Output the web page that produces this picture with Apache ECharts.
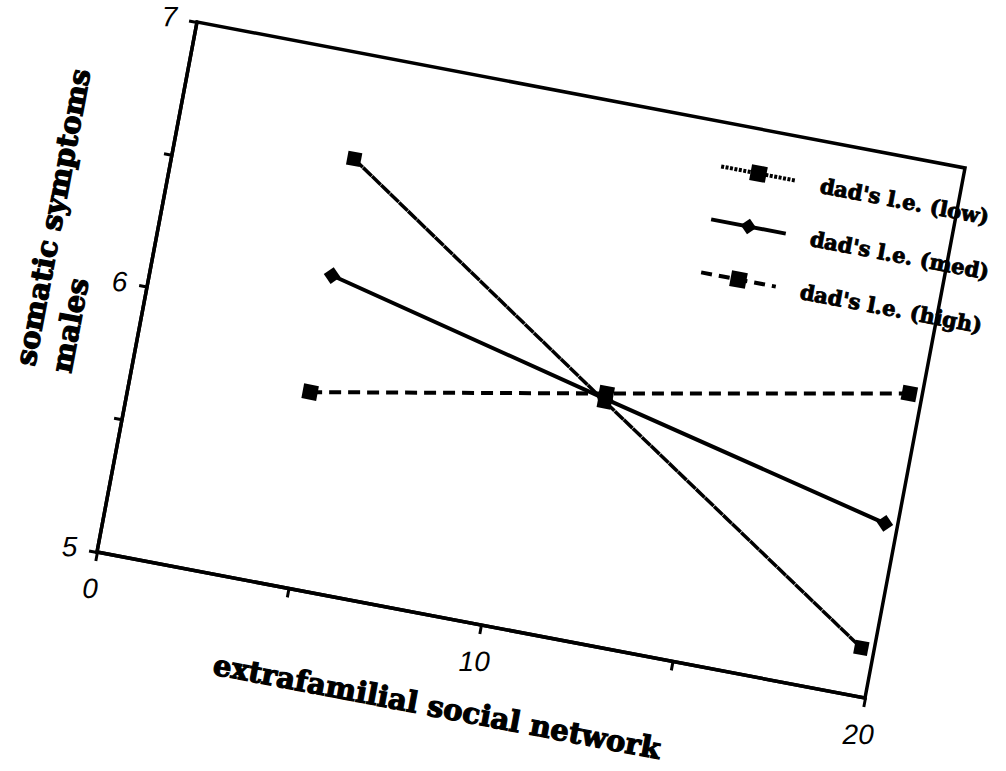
<!DOCTYPE html>
<html><head><meta charset="utf-8">
<script src="https://cdn.jsdelivr.net/npm/echarts@6/dist/echarts.min.js"></script>
<style>
html,body{margin:0;padding:0;background:#fff;overflow:hidden;width:1006px;height:771px;}
#chart{position:absolute;left:0;top:0;width:1060px;height:800px;transform-origin:0 0;
transform:matrix(0.98210,0.18670,-0.18553,0.98330,68.238,-104.334);}
</style></head><body><div id="chart"></div>
<script>
// ---- data ----
const xPoints = [4.6, 12.05, 19.67];
const lowValues = [6.61, 5.90, 5.18];
const medValues = [6.17, 5.91, 5.65];
const highValues = [5.73, 5.93, 6.14];
const seriesNames = ["dad's l.e. (low)", "dad's l.e. (med)", "dad's l.e. (high)"];
const xTickLabels = ['0', '10', '20'];
const yTickLabels = ['5', '6', '7'];
const xTitle = 'extrafamilial social network';
const yTitle = ['somatic symptoms', 'males'];

// ---- chart ----
const pairs = vals => xPoints.map((x, i) => [x, vals[i]]);
const serifFont = '"DejaVu Serif", "Liberation Serif", serif';
const tickFont = { fontFamily: '"Liberation Sans", Arial, sans-serif', fontStyle: 'italic', fontSize: 28, color: '#000' };
const legendLineTypes = [[3, 1.5], 'solid', [11, 7]];
const chart = echarts.init(document.getElementById('chart'), null, { renderer: 'svg' });
chart.setOption({
  animation: false,
  backgroundColor: 'transparent',
  grid: { left: 150, top: 100, width: 782, height: 539, show: true, borderColor: '#000', borderWidth: 3.5, backgroundColor: 'transparent' },
  legend: {
    orient: 'vertical', left: 685, top: 128, itemWidth: 76, itemHeight: 20, itemGap: 32,
    data: seriesNames.map((n, i) => ({ name: n, lineStyle: { width: 4, type: legendLineTypes[i], color: '#000' } })),
    textStyle: { fontFamily: serifFont, fontWeight: 'bold', fontSize: 21, color: '#000', padding: [0, 0, 0, 20],
      textBorderColor: '#000', textBorderWidth: 0.9 }
  },
  xAxis: {
    type: 'value', min: 0, max: 20, interval: 5,
    name: xTitle, nameLocation: 'middle', nameGap: 74,
    nameTextStyle: { fontFamily: serifFont, fontWeight: 'bold', fontSize: 29, color: '#000', padding: [0, 56, 0, 0],
      textBorderColor: '#000', textBorderWidth: 1.2 },
    axisLine: { lineStyle: { color: '#000', width: 3.5 } },
    axisTick: { inside: false, length: 9, lineStyle: { color: '#000', width: 3 } },
    axisLabel: Object.assign({ margin: 37, rotate: 10.7, align: 'center', verticalAlign: 'middle', showMinLabel: true, showMaxLabel: true,
      formatter: v => xTickLabels.includes(String(v)) ? String(v) : '' }, tickFont),
    splitLine: { show: false }
  },
  yAxis: {
    type: 'value', min: 5, max: 7, interval: 0.5,
    axisLine: { lineStyle: { color: '#000', width: 3.5 } },
    axisTick: { inside: false, length: 8, lineStyle: { color: '#000', width: 3 } },
    axisLabel: Object.assign({ margin: 28, rotate: 10.7, align: 'center', verticalAlign: 'middle', showMinLabel: true, showMaxLabel: true,
      formatter: v => yTickLabels.includes(String(v)) ? String(v) : '' }, tickFont),
    splitLine: { show: false }
  },
  graphic: [{
    type: 'text', x: 63, y: 469, rotation: Math.PI / 2,
    style: { text: yTitle.join('\n'), font: 'bold 29px ' + serifFont, fill: '#000', align: 'left', verticalAlign: 'middle', lineHeight: 37,
      stroke: '#000', lineWidth: 1.2 }
  }],
  series: [
    { name: seriesNames[0], type: 'line', data: pairs(lowValues), symbol: 'rect', symbolSize: 14,
      lineStyle: { color: '#000', width: 3.5, type: [12, 0.5] }, itemStyle: { color: '#000' } },
    { name: seriesNames[1], type: 'line', data: pairs(medValues), symbol: 'diamond', symbolSize: 17,
      lineStyle: { color: '#000', width: 4, type: 'solid' }, itemStyle: { color: '#000' } },
    { name: seriesNames[2], type: 'line', data: pairs(highValues), symbol: 'rect', symbolSize: 15,
      lineStyle: { color: '#000', width: 4, type: [12, 7] }, itemStyle: { color: '#000' } }
  ]
});
</script></body></html>
